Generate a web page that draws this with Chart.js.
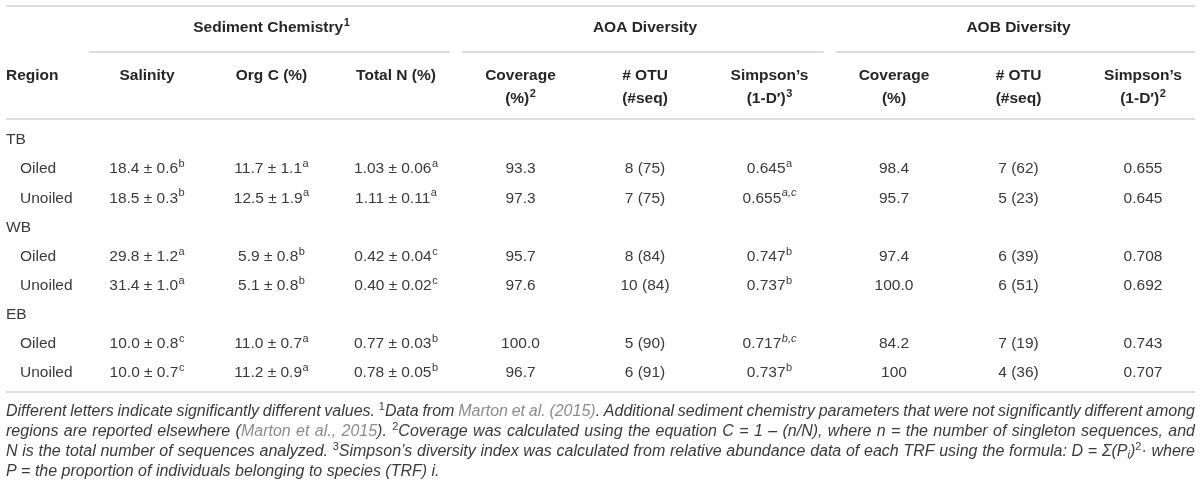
<!DOCTYPE html>
<html>
<head>
<meta charset="utf-8">
<script src="https://cdn.jsdelivr.net/npm/chart.js@4.4.1/dist/chart.umd.min.js"></script>
<style>
  html, body { margin: 0; padding: 0; background: #fff; }
  #wrap { width: 1200px; height: 489px; position: relative; }
</style>
</head>
<body>
<div id="wrap"><canvas id="tbl"></canvas></div>
<script>
// ---- table content ----
const regions = ['TB', 'WB', 'EB'];
const treatments = ['Oiled', 'Unoiled'];

const salinity       = [18.4, 18.5, 29.8, 31.4, 10.0, 10.0];
const salinitySE     = [0.6, 0.3, 1.2, 1.0, 0.8, 0.7];
const salinityLetter = ['b', 'b', 'a', 'a', 'c', 'c'];

const orgC       = [11.7, 12.5, 5.9, 5.1, 11.0, 11.2];
const orgCSE     = [1.1, 1.9, 0.8, 0.8, 0.7, 0.9];
const orgCLetter = ['a', 'a', 'b', 'b', 'a', 'a'];

const totalN       = [1.03, 1.11, 0.42, 0.40, 0.77, 0.78];
const totalNSE     = [0.06, 0.11, 0.04, 0.02, 0.03, 0.05];
const totalNLetter = ['a', 'a', 'c', 'c', 'b', 'b'];

const aoaCoverage      = [93.3, 97.3, 95.7, 97.6, 100.0, 96.7];
const aoaOtu           = [8, 7, 8, 10, 5, 6];
const aoaSeq           = [75, 75, 84, 84, 90, 91];
const aoaSimpson       = [0.645, 0.655, 0.747, 0.737, 0.717, 0.737];
const aoaSimpsonLetter = ['a', 'a,c', 'b', 'b', 'b,c', 'b'];

const aobCoverage = ['98.4', '95.7', '97.4', '100.0', '84.2', '100'];
const aobOtu      = [7, 5, 6, 6, 7, 4];
const aobSeq      = [62, 23, 39, 51, 19, 36];
const aobSimpson  = [0.655, 0.645, 0.708, 0.692, 0.743, 0.707];

// '^' marks the start of a superscript
const groupHeaders = [
  { text: 'Sediment Chemistry^1', from: 0, to: 2 },
  { text: 'AOA Diversity', from: 3, to: 5 },
  { text: 'AOB Diversity', from: 6, to: 8 }
];
const colHeaders = [
  ['Salinity'], ['Org C (%)'], ['Total N (%)'],
  ['Coverage', '(%)^2'], ['# OTU', '(#seq)'], ['Simpson\u2019s', '(1-D\u2032)^3'],
  ['Coverage', '(%)'], ['# OTU', '(#seq)'], ['Simpson\u2019s', '(1-D\u2032)^2']
];

// footnote lines: [text, style] pieces; n = normal, l = link, p = superscript, b = subscript
const footnotes = [
  [['Different letters indicate significantly different values. ', 'n'], ['1', 'p'], ['Data from ', 'n'],
   ['Marton et al. (2015)', 'l'], ['. Additional sediment chemistry parameters that were not significantly different among', 'n']],
  [['regions are reported elsewhere (', 'n'], ['Marton et al., 2015', 'l'], ['). ', 'n'], ['2', 'p'],
   ['Coverage was calculated using the equation C = 1 \u2013 (n/N), where n = the number of singleton sequences, and', 'n']],
  [['N is the total number of sequences analyzed. ', 'n'], ['3', 'p'],
   ['Simpson\u2019s diversity index was calculated from relative abundance data of each TRF using the formula: D = \u03A3(P', 'n'],
   ['i', 'b'], [')', 'n'], ['2', 'p'], ['\u00B7 where', 'n']],
  [['P = the proportion of individuals belonging to species (TRF) i.', 'n']]
];

// ---- build the table grid ----
const rowLabels = [];
const rowIsRegion = [];
regions.forEach(r => {
  rowLabels.push(r); rowIsRegion.push(true);
  treatments.forEach(t => { rowLabels.push(t); rowIsRegion.push(false); });
});

const columns = [
  salinity.map((v, i) => `${v.toFixed(1)} \u00B1 ${salinitySE[i].toFixed(1)}^${salinityLetter[i]}`),
  orgC.map((v, i) => `${v.toFixed(1)} \u00B1 ${orgCSE[i].toFixed(1)}^${orgCLetter[i]}`),
  totalN.map((v, i) => `${v.toFixed(2)} \u00B1 ${totalNSE[i].toFixed(2)}^${totalNLetter[i]}`),
  aoaCoverage.map(v => v.toFixed(1)),
  aoaOtu.map((v, i) => `${v} (${aoaSeq[i]})`),
  aoaSimpson.map((v, i) => `${v.toFixed(3)}^${aoaSimpsonLetter[i]}`),
  aobCoverage,
  aobOtu.map((v, i) => `${v} (${aobSeq[i]})`),
  aobSimpson.map(v => v.toFixed(3))
];

const cells = [];
columns.forEach((col, c) => {
  col.forEach((txt, k) => {
    const row = Math.floor(k / treatments.length) * (treatments.length + 1) + 1 + (k % treatments.length);
    cells.push({ x: c, y: row, label: txt });
  });
});

// ---- drawing helpers ----
const FAMILY = '"Liberation Sans", Arial, sans-serif';
const TEXT = '#3a3a3a';
const RULE = '#d2d2d2';

function splitSup(str) {
  const i = str.indexOf('^');
  return i < 0 ? [str, ''] : [str.slice(0, i), str.slice(i + 1)];
}

// draws "main^sup" centred (align 'center') or from x (align 'left')
function drawSupText(ctx, str, x, y, weight, size, align) {
  const [main, sup] = splitSup(str);
  const mainFont = `${weight} ${size}px ${FAMILY}`;
  const supFont = `${sup.includes(',') ? 'italic ' : ''}${weight} ${Math.round(size * 0.68)}px ${FAMILY}`;
  ctx.font = mainFont;
  const wm = ctx.measureText(main).width;
  ctx.font = supFont;
  const ws = sup ? ctx.measureText(sup).width + 0.5 : 0;
  let sx = align === 'center' ? x - (wm + ws) / 2 : x;
  ctx.textAlign = 'left';
  ctx.font = mainFont;
  ctx.fillText(main, sx, y);
  if (sup) {
    ctx.font = supFont;
    ctx.fillText(sup, sx + wm + 0.5, y - 5);
  }
}

function hLine(ctx, x0, x1, y) {
  ctx.beginPath();
  ctx.moveTo(x0, y);
  ctx.lineTo(x1, y);
  ctx.stroke();
}

function styleFor(s) {
  if (s === 'p') return { font: `11px ${FAMILY}`, color: TEXT, dy: -5 };
  if (s === 'b') return { font: `italic 11px ${FAMILY}`, color: TEXT, dy: 3 };
  if (s === 'l') return { font: `italic 16px ${FAMILY}`, color: '#8c8c8c', dy: 0 };
  return { font: `italic 16px ${FAMILY}`, color: TEXT, dy: 0 };
}

// justified footnote line
function drawFootLine(ctx, pieces, x0, x1, y, justify) {
  const toks = [];
  pieces.forEach(([t, s]) => {
    const st = styleFor(s);
    t.split(' ').forEach((w, i) => {
      if (i > 0) toks.push({ space: true, st });
      if (w) toks.push({ t: w, st });
    });
  });
  let natural = 0, gaps = 0;
  toks.forEach(tk => {
    ctx.font = tk.st.font;
    tk.w = ctx.measureText(tk.space ? ' ' : tk.t).width;
    natural += tk.w;
    if (tk.space) gaps++;
  });
  const extra = justify && gaps ? (x1 - x0 - natural) / gaps : 0;
  let cx = x0;
  ctx.textAlign = 'left';
  toks.forEach(tk => {
    if (tk.space) { cx += tk.w + extra; return; }
    ctx.font = tk.st.font;
    ctx.fillStyle = tk.st.color;
    ctx.fillText(tk.t, cx, y + tk.st.dy);
    cx += tk.w;
  });
}

const tablePlugin = {
  id: 'tableText',
  afterDraw(chart) {
    const { ctx, chartArea } = chart;
    const xs = chart.scales.x, ys = chart.scales.y;
    const step = xs.getPixelForValue(1) - xs.getPixelForValue(0);
    const left = 6, right = 1195;
    const top = chartArea.top, bottom = chartArea.bottom;

    ctx.save();
    ctx.textBaseline = 'middle';
    ctx.strokeStyle = RULE;
    ctx.lineWidth = 1.5;

    // rules
    hLine(ctx, left, right, top - 134);
    hLine(ctx, left, right, top - 21);
    hLine(ctx, left, right, bottom + 19);
    groupHeaders.forEach(g => {
      const a = xs.getPixelForValue(g.from) - step / 2 + 4;
      const b = xs.getPixelForValue(g.to) + step / 2 - 8;
      hLine(ctx, a, Math.min(b, right), top - 88);
    });

    // headers
    ctx.fillStyle = '#262626';
    groupHeaders.forEach(g => {
      const cx = (xs.getPixelForValue(g.from) + xs.getPixelForValue(g.to)) / 2;
      drawSupText(ctx, g.text, cx, top - 112, 'bold', 15.5, 'center');
    });
    drawSupText(ctx, 'Region', left, top - 64, 'bold', 15.5, 'left');
    colHeaders.forEach((lines, c) => {
      lines.forEach((ln, k) => {
        drawSupText(ctx, ln, xs.getPixelForValue(c), top - 64 + k * 23, 'bold', 15.5, 'center');
      });
    });

    // row labels
    ctx.fillStyle = TEXT;
    rowLabels.forEach((lab, r) => {
      drawSupText(ctx, lab, rowIsRegion[r] ? left : left + 14, ys.getPixelForValue(r), 'normal', 15.5, 'left');
    });

    // cells, placed at the dataset's points
    const meta = chart.getDatasetMeta(0);
    meta.data.forEach((pt, i) => {
      drawSupText(ctx, cells[i].label, pt.x, pt.y, 'normal', 15.5, 'center');
    });

    // footnotes
    footnotes.forEach((ln, k) => {
      drawFootLine(ctx, ln, left, right, bottom + 39 + k * 20, k < footnotes.length - 1);
    });
    ctx.restore();
  }
};

new Chart(document.getElementById('tbl').getContext('2d'), {
  type: 'scatter',
  data: {
    datasets: [{ data: cells, pointRadius: 0, pointHoverRadius: 0 }]
  },
  options: {
    responsive: true,
    maintainAspectRatio: false,
    animation: false,
    events: [],
    layout: { padding: { left: 147, right: 57, top: 140, bottom: 116 } },
    scales: {
      x: { type: 'linear', min: 0, max: columns.length - 1, display: false },
      y: { type: 'linear', min: 0, max: rowLabels.length - 1, reverse: true, display: false }
    },
    plugins: { legend: { display: false }, tooltip: { enabled: false } }
  },
  plugins: [tablePlugin]
});
</script>
</body>
</html>
